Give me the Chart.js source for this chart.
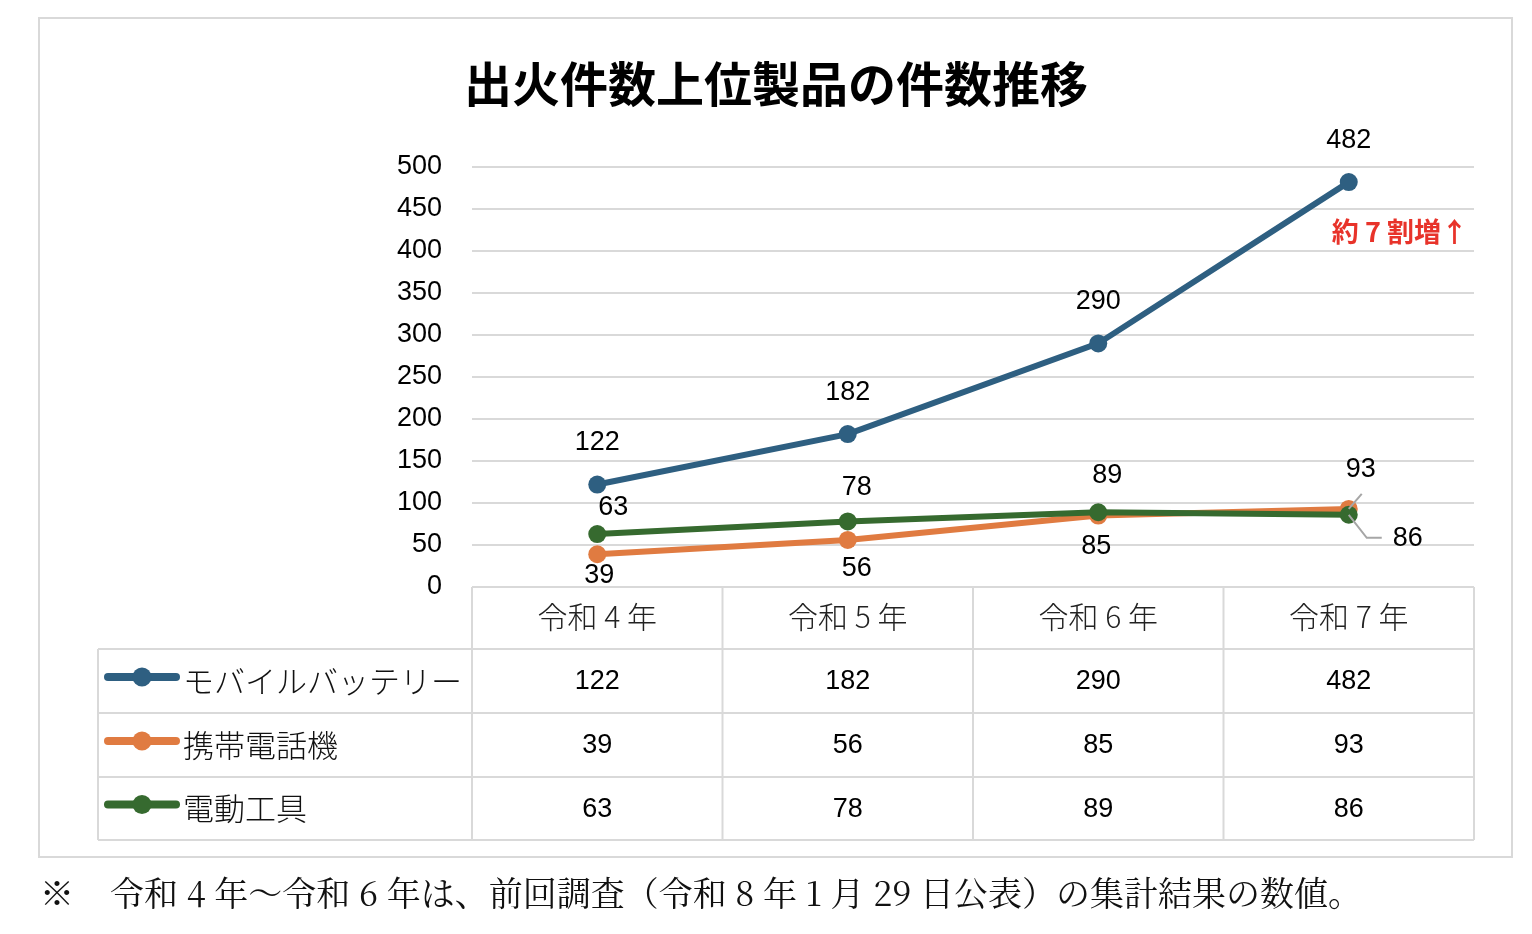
<!DOCTYPE html>
<html lang="ja">
  <head>
    <meta charset="utf-8" />
    <title>出火件数上位製品の件数推移</title>
    <script src="https://cdn.jsdelivr.net/npm/chart.js@4.4.1/dist/chart.umd.min.js"></script>
    <style>
      * {
        margin: 0;
        padding: 0;
        box-sizing: border-box;
      }
      body {
        width: 1532px;
        height: 934px;
        background: #ffffff;
        position: relative;
        overflow: hidden;
      }
      .frame {
        position: absolute;
        left: 38px;
        top: 17px;
        width: 1475px;
        height: 841px;
        border: 2px solid #d9d9d9;
      }
      #chart {
        position: absolute;
        left: 0;
        top: 0;
      }
      .note {
        position: absolute;
        left: 40px;
        top: 870px;
        font-family: "Noto Serif CJK JP", "Noto Sans CJK JP", serif;
        font-size: 34px;
        line-height: 44px;
        color: #111;
        white-space: nowrap;
      }
      .note span {
        margin-right: 36px;
      }
    </style>
  </head>
  <body>
    <div class="frame"></div>
    <canvas id="chart" width="1532" height="934"></canvas>
    <div class="note"><span>※</span>令和 4 年～令和 6 年は、前回調査（令和 8 年 1 月 29 日公表）の集計結果の数値。</div>

    <script>
      // data
      const years = ["令和 4 年", "令和 5 年", "令和 6 年", "令和 7 年"];
      const seriesNames = ["モバイルバッテリー", "携帯電話機", "電動工具"];
      const battery = [122, 182, 290, 482];
      const phone = [39, 56, 85, 93];
      const tools = [63, 78, 89, 86];
      const yTicks = [0, 50, 100, 150, 200, 250, 300, 350, 400, 450, 500];

      const colors = ["#2e5f81", "#e07b41", "#366a2f"];
      const allSeries = [battery, phone, tools];
      const numFont = "'Liberation Sans', Arial, sans-serif";
      const jpFont = "'Noto Sans CJK JP', sans-serif";

      // label offsets from each point (dx, dy), and optional leader lines
      const labelPos = [
        [[0, -42], [0, -42], [0, -42], [0, -42]],
        [[2, 21], [9, 29], [-2, 31], [12, -39]],
        [[16, -27], [9, -34], [9, -37], [59, 24]],
      ];
      const leaders = {
        "1-3": [[13, -15]],
        "2-3": [[18, 23], [33, 23]],
      };

      const tablePlugin = {
        id: "tablePlugin",
        afterDatasetsDraw(chart) {
          const ctx = chart.ctx;
          const area = chart.chartArea;
          // leader lines
          ctx.save();
          ctx.strokeStyle = "#a6a6a6";
          ctx.lineWidth = 2;
          Object.keys(leaders).forEach((k) => {
            const [s, i] = k.split("-").map(Number);
            const p = chart.getDatasetMeta(s).data[i];
            ctx.beginPath();
            ctx.moveTo(p.x, p.y);
            leaders[k].forEach(([dx, dy]) => ctx.lineTo(p.x + dx, p.y + dy));
            ctx.stroke();
          });
          // data labels
          ctx.fillStyle = "#000";
          ctx.font = "27px " + numFont;
          ctx.textAlign = "center";
          ctx.textBaseline = "middle";
          allSeries.forEach((vals, s) => {
            const meta = chart.getDatasetMeta(s);
            vals.forEach((v, i) => {
              const p = meta.data[i];
              const [dx, dy] = labelPos[s][i];
              ctx.fillText(String(v), p.x + dx, p.y + dy);
            });
          });
          // annotation
          ctx.fillStyle = "#e8332a";
          ctx.font = "bold 27px " + jpFont;
          ctx.textAlign = "right";
          ctx.fillText("約 7 割増↑", area.right - 6, 232);
          ctx.restore();
        },
        afterDraw(chart) {
          const ctx = chart.ctx;
          const area = chart.chartArea;
          const xs = chart.scales.x;
          const band = (area.right - area.left) / years.length;
          const top = area.bottom;
          const rows = [top + 62, top + 126, top + 190, top + 253];
          const left = 98;
          ctx.save();
          ctx.strokeStyle = "#d9d9d9";
          ctx.lineWidth = 2;
          ctx.beginPath();
          ctx.moveTo(area.left, top);
          ctx.lineTo(area.right, top);
          rows.forEach((y) => {
            ctx.moveTo(left, y);
            ctx.lineTo(area.right, y);
          });
          for (let i = 0; i <= years.length; i++) {
            const x = area.left + band * i;
            ctx.moveTo(x, top);
            ctx.lineTo(x, rows[3]);
          }
          ctx.moveTo(left, rows[0]);
          ctx.lineTo(left, rows[3]);
          ctx.stroke();

          // rows: legend + values
          allSeries.forEach((vals, s) => {
            const cy = (rows[s] + rows[s + 1]) / 2;
            ctx.strokeStyle = colors[s];
            ctx.lineWidth = 8;
            ctx.lineCap = "round";
            ctx.beginPath();
            ctx.moveTo(108, cy - 4);
            ctx.lineTo(176, cy - 4);
            ctx.stroke();
            ctx.fillStyle = colors[s];
            ctx.beginPath();
            ctx.arc(142, cy - 4, 9.5, 0, Math.PI * 2);
            ctx.fill();

            ctx.fillStyle = "#111";
            ctx.font = "300 31px " + jpFont;
            ctx.textAlign = "left";
            ctx.textBaseline = "middle";
            ctx.fillText(seriesNames[s], 183, cy);

            ctx.font = "27px " + numFont;
            ctx.textAlign = "center";
            ctx.fillStyle = "#000";
            vals.forEach((v, i) => {
              ctx.fillText(String(v), xs.getPixelForValue(i), cy + 1);
            });
          });
          ctx.restore();
        },
      };

      new Chart(document.getElementById("chart"), {
        type: "line",
        data: {
          labels: years,
          datasets: allSeries.map((vals, s) => ({
            label: seriesNames[s],
            data: vals,
            borderColor: colors[s],
            backgroundColor: colors[s],
            pointBackgroundColor: colors[s],
            pointBorderColor: colors[s],
            borderWidth: 6,
            pointRadius: 9,
            pointBorderWidth: 0,
            tension: 0,
            order: [0, 2, 1][s],
          })),
        },
        options: {
          responsive: false,
          animation: false,
          layout: { padding: { left: 78, right: 58, top: 0, bottom: 0 } },
          plugins: {
            legend: { display: false },
            tooltip: { enabled: false },
            title: {
              display: true,
              text: "出火件数上位製品の件数推移",
              color: "#000",
              font: { family: jpFont, size: 48, weight: "bold", lineHeight: 1.2 },
              padding: { top: 55, bottom: 54.4 },
            },
          },
          scales: {
            x: {
              offset: true,
              grid: { display: false },
              border: { display: false },
              ticks: {
                color: "#222",
                font: { family: jpFont, size: 30, weight: "300" },
                padding: 4,
              },
              afterFit(scale) {
                scale.height = 347;
              },
            },
            y: {
              min: 0,
              max: 500,
              afterBuildTicks(scale) {
                scale.ticks = yTicks.map((v) => ({ value: v }));
              },
              grid: { color: "#d9d9d9", lineWidth: 2, drawTicks: false },
              border: { display: false },
              ticks: {
                color: "#000",
                font: { family: numFont, size: 27 },
                padding: 30,
              },
              afterFit(scale) {
                scale.width = 394;
              },
            },
          },
        },
        plugins: [tablePlugin],
      });
    </script>
  </body>
</html>
